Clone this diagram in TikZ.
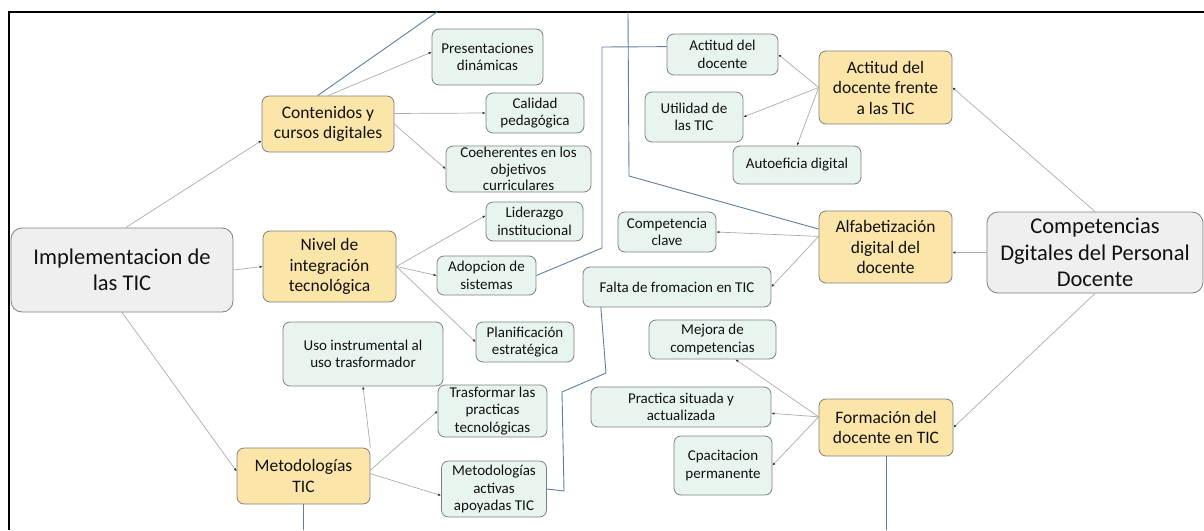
\documentclass[tikz,border=0pt]{standalone}
\usepackage{fontspec}
\setmainfont{Carlito}
\usetikzlibrary{arrows.meta}
\definecolor{fondogris}{HTML}{EFEFEF}
\definecolor{fondoamarillo}{HTML}{FCE5A8}
\definecolor{fondoverde}{HTML}{E8F5EE}
\definecolor{borde}{HTML}{7F7F7F}
\definecolor{texto}{HTML}{111111}
\definecolor{linea}{HTML}{ABABAB}
\definecolor{punta}{HTML}{333333}
\definecolor{lineaazul}{HTML}{5E7E9E}
\tikzset{
	caja/.style={draw=borde, line width=0.8pt, rounded corners=7pt, align=center, text=texto, inner sep=1pt},
	gris/.style={caja, fill=fondogris, rounded corners=11pt, font=\fontsize{22.5}{26.5}\selectfont},
	amar/.style={caja, fill=fondoamarillo, font=\fontsize{17.5}{20.5}\selectfont},
	verde/.style={caja, fill=fondoverde, font=\fontsize{15}{17.5}\selectfont},
	flecha/.style={draw=linea, line width=0.7pt, -{Latex[length=3pt,width=2.6pt,color=punta]}},
	azul/.style={draw=lineaazul, line width=0.9pt}
}

\begin{document}
\begin{tikzpicture}[x=1pt,y=-1pt]
	%%%%% START %%%%%
	\useasboundingbox (0,0) rectangle (1204,530);
	\draw[line width=1.6pt] (9,530) -- (9,12) -- (1204,12);
	
	% main nodes
	\node[gris, minimum width=222pt, minimum height=84pt] (impl) at (122,270) {Implementacion de\\las TIC};
	\node[gris, minimum width=216pt, minimum height=81pt] (comp) at (1095,252.5) {Competencias\\Dgitales del Personal\\Docente};
	
	% left side
	\node[amar, minimum width=132pt, minimum height=56pt] (cont) at (328,124) {Contenidos y\\cursos digitales};
	\node[amar, minimum width=133pt, minimum height=71pt] (nivel) at (329.5,266.5) {Nivel de\\integración\\tecnológica};
	\node[amar, minimum width=133pt, minimum height=56pt] (metod) at (303.5,476) {Metodologías\\TIC};
	
	\node[verde, minimum width=111pt, minimum height=56pt] (pres) at (487.5,57) {Presentaciones\\dinámicas};
	\node[verde, minimum width=98pt, minimum height=40pt] (cal) at (535,113) {Calidad\\pedagógica};
	\node[verde, minimum width=145pt, minimum height=46pt, inner sep=0pt, font=\fontsize{15}{16.5}\selectfont] (coeh) at (518.5,169) {Coeherentes en los\\objetivos\\curriculares};
	\node[verde, minimum width=97pt, minimum height=39pt] (lid) at (534.5,221.5) {Liderazgo\\institucional};
	\node[verde, minimum width=99pt, minimum height=39pt] (adop) at (486.5,275.5) {Adopcion de\\sistemas};
	\node[verde, minimum width=98pt, minimum height=40pt] (plan) at (525,342) {Planificación\\estratégica};
	\node[verde, minimum width=160pt, minimum height=64pt] (uso) at (363,354) {Uso instrumental al\\uso trasformador};
	\node[verde, minimum width=109pt, minimum height=52pt] (trasf) at (492.5,411) {Trasformar las\\practicas\\tecnológicas};
	\node[verde, minimum width=105pt, minimum height=56pt] (mact) at (494,489) {Metodologías\\activas\\apoyadas TIC};
	
	% right side
	\node[amar, minimum width=133pt, minimum height=73pt] (actf) at (885.5,87.5) {Actitud del\\docente frente\\a las TIC};
	\node[amar, minimum width=133pt, minimum height=72pt] (alfa) at (885.5,247) {Alfabetización\\digital del\\docente};
	\node[amar, minimum width=134pt, minimum height=57pt] (form) at (886,427.5) {Formación del\\docente en TIC};
	
	\node[verde, minimum width=111pt, minimum height=41pt] (actd) at (722.5,54.5) {Actitud del\\docente};
	\node[verde, minimum width=98pt, minimum height=50pt] (util) at (694,117) {Utilidad de\\las TIC};
	\node[verde, minimum width=128pt, minimum height=38pt] (autoe) at (797,165) {Autoeficia digital};
	\node[verde, minimum width=98pt, minimum height=40pt] (cclave) at (667,232) {Competencia\\clave};
	\node[verde, minimum width=188pt, minimum height=40pt] (falta) at (677,287) {Falta de fromacion en TIC};
	\node[verde, minimum width=127pt, minimum height=39pt] (mejora) at (712.5,339.5) {Mejora de\\competencias};
	\node[verde, minimum width=180pt, minimum height=40pt] (pract) at (681,407) {Practica situada y\\actualizada};
	\node[verde, minimum width=98pt, minimum height=59pt] (cpac) at (723,465.5) {Cpacitacion\\permanente};
	
	% free ends
	\coordinate (arribaA) at (437,12);
	\coordinate (arribaB) at (628,12);
	\coordinate (abajoA) at (303.5,530);
	\coordinate (abajoB) at (886,530);
	
	% connectors left
	\draw[flecha] (impl.85) -- (cont.194);
	\draw[flecha] (impl.east) -- (nivel.west);
	\draw[flecha] (impl.south) -- (metod.176);
	\draw[flecha] (cont.north) -- (pres.175);
	\draw[azul] (cont.110) -- (arribaA);
	\draw[flecha] (cont.9) -- (cal.west);
	\draw[flecha] (cont.east) -- (coeh.west);
	\draw[flecha] (nivel.east) -- (lid.173);
	\draw[flecha] (nivel.east) -- (adop.west);
	\draw[flecha] (nivel.east) -- (plan.west);
	\draw[flecha] (metod.north east) -- (uso.south);
	\draw[flecha] (metod.5) -- (trasf.west);
	\draw[flecha] (metod.2) -- (mact.187);
	\draw[azul] (metod.south) -- (abajoA);
	
	% blue links across
	\draw[azul] (mact.east) -- (564,491) -- (562,392) -- (606,373) -- (falta.195);
	\draw[azul] (adop.east) -- (602,248) -- (602,47) -- (actd.172);
	\draw[azul] (arribaB) -- (629,176) -- (alfa.165);
	
	% connectors right
	\draw[flecha] (actf.west) -- (actd.east);
	\draw[flecha] (actf.west) -- (util.east);
	\draw[flecha] (actf.west) -- (autoe.north);
	\draw[flecha] (comp.north) -- (actf.east);
	\draw[flecha] (comp.west) -- (comp.west -| alfa.east);
	\draw[flecha] (comp.south) -- (form.east);
	\draw[flecha] (alfa.171) -- (cclave.east);
	\draw[flecha] (alfa.171) -- (falta.east);
	\draw[flecha] (form.171) -- (mejora.-41);
	\draw[flecha] (form.171) -- (pract.-4);
	\draw[flecha] (form.171) -- (cpac.east);
	\draw[azul] (form.south) -- (abajoB);
	%%%%% END %%%%%
\end{tikzpicture}
\end{document}
